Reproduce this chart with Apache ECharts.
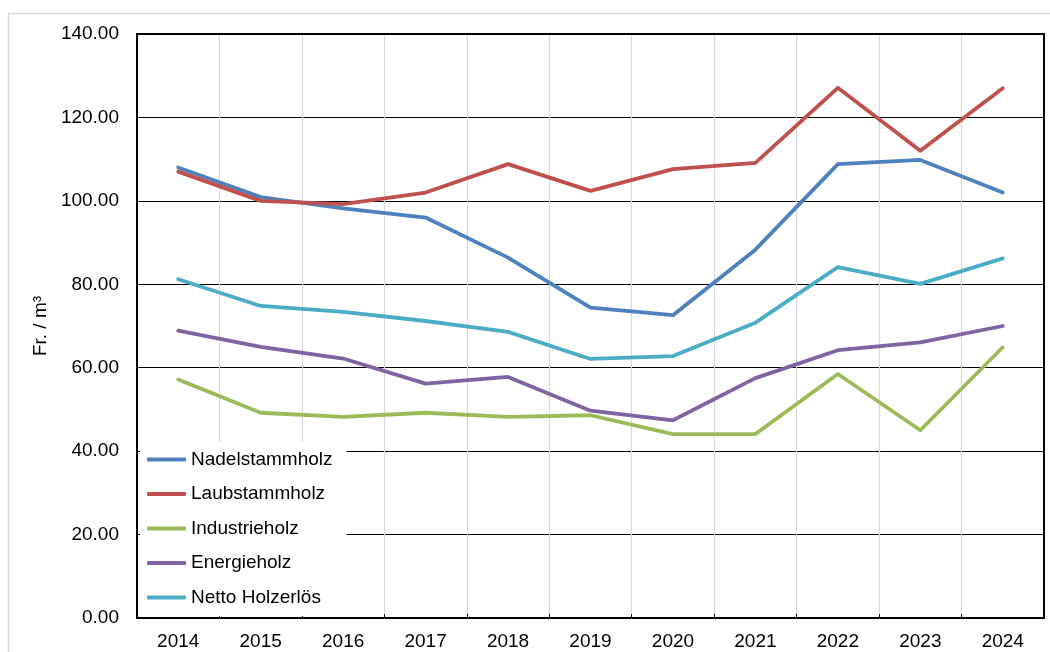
<!DOCTYPE html>
<html>
<head>
<meta charset="utf-8">
<script src="https://cdn.jsdelivr.net/npm/echarts@6/dist/echarts.min.js"></script>
<style>
html,body{margin:0;padding:0;background:#fff;}
#chart{width:1050px;height:652px;}
</style>
</head>
<body>
<div id="chart"></div>
<script>
var years = ['2014','2015','2016','2017','2018','2019','2020','2021','2022','2023','2024'];
var nadelstammholz = [108.0, 100.9, 98.2, 96.0, 86.4, 74.4, 72.6, 88.3, 108.8, 109.8, 102.0];
var laubstammholz  = [107.0, 100.0, 99.2, 102.0, 108.8, 102.4, 107.6, 109.1, 127.1, 112.0, 127.0];
var industrieholz  = [57.2, 49.2, 48.2, 49.2, 48.2, 48.6, 44.1, 44.1, 58.5, 45.0, 64.9];
var energieholz    = [68.9, 65.0, 62.2, 56.2, 57.8, 49.7, 47.4, 57.5, 64.2, 66.1, 70.0];
var nettoHolzerloes = [81.2, 74.8, 73.4, 71.2, 68.6, 62.1, 62.8, 70.8, 84.1, 80.1, 86.2];
var seriesNames = ['Nadelstammholz','Laubstammholz','Industrieholz','Energieholz','Netto Holzerlös'];
var seriesColors = ['#4F81BD','#C0504D','#9BBB59','#8064A2','#4BACC6'];
var seriesData = [nadelstammholz, laubstammholz, industrieholz, energieholz, nettoHolzerloes];

var FONT = '"Liberation Sans", Arial, sans-serif';
var chart = echarts.init(document.getElementById('chart'), null, {renderer:'canvas'});

var series = seriesNames.map(function(n,i){
  return {
    name:n, type:'line', data:seriesData[i], symbol:'none',
    lineStyle:{color:seriesColors[i], width:3.8, cap:'round', join:'round'},
    itemStyle:{color:seriesColors[i]},
    z:3
  };
});

chart.setOption({
  animation:false,
  backgroundColor:'#fff',
  graphic:[{
    type:'rect', left:6, top:11, shape:{x:0,y:0,width:1100,height:700},
    style:{fill:'none', stroke:'#d9d9d9', lineWidth:1.5}, z:-1
  },{
    type:'rect', shape:{x:137, y:34, width:907, height:584},
    style:{fill:'none', stroke:'#000', lineWidth:2}, z:10, silent:true
  }],
  grid:{left:137, right:6, top:34, bottom:34, containLabel:false},
  legend:{
    orient:'vertical', left:140, top:442,
    backgroundColor:'#fff',
    padding:[8, 14, 9, 7],
    itemWidth:39, itemHeight:4, itemGap:15.5,
    icon:'roundRect',
    textStyle:{fontFamily:FONT, fontSize:19, color:'#000'},
    data:seriesNames.map(function(n,i){return {name:n, itemStyle:{color:seriesColors[i]}};}),
    z:5
  },
  xAxis:{
    type:'category', data:years, boundaryGap:true,
    axisLine:{lineStyle:{color:'#000', width:2}},
    axisTick:{show:true, inside:true, length:4, lineStyle:{color:'#000', width:1}},
    splitLine:{show:true, lineStyle:{color:'#d9d9d9', width:1.2}},
    axisLabel:{fontFamily:FONT, fontSize:19, color:'#000', margin:14}
  },
  yAxis:{
    type:'value', min:0, max:140, interval:20,
    name:'Fr. / m³', nameLocation:'middle', nameGap:84, nameRotate:90,
    nameTextStyle:{fontFamily:FONT, fontSize:19, color:'#000'},
    axisLine:{show:true, lineStyle:{color:'#000', width:2}},
    axisTick:{show:false},
    splitLine:{show:true, lineStyle:{color:'#000', width:1.2}},
    axisLabel:{fontFamily:FONT, fontSize:19, color:'#000', margin:18,
      formatter:function(v){return v.toFixed(2);}}
  },
  series:series
});
</script>
</body>
</html>
